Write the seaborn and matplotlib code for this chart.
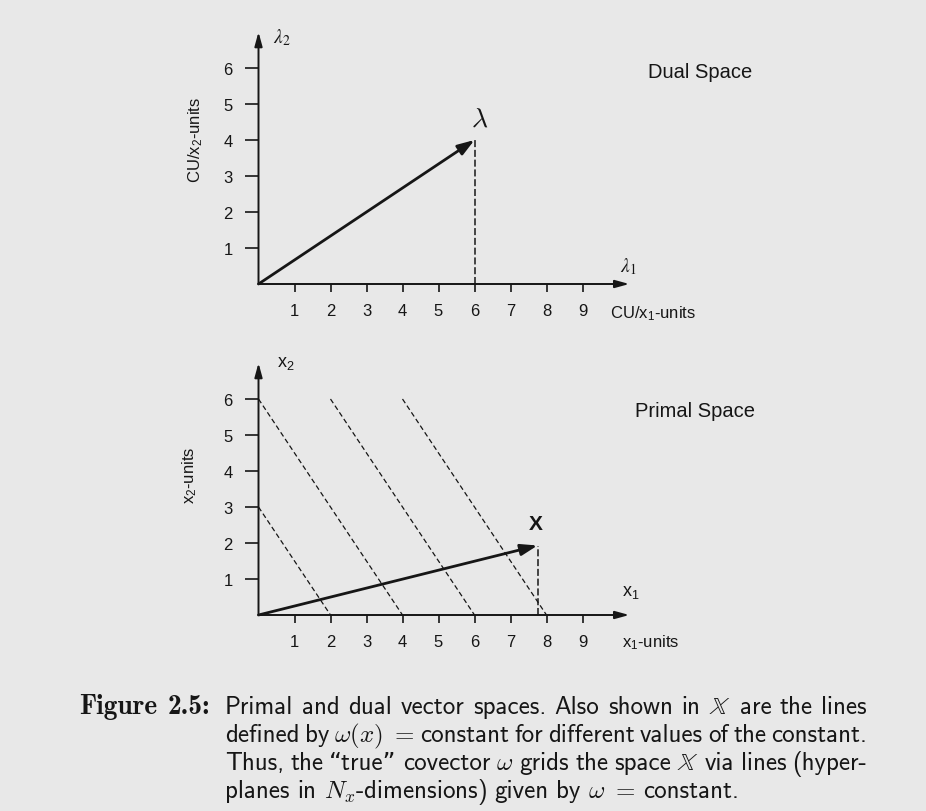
import numpy as np
import pandas as pd
import matplotlib
matplotlib.use("Agg")
import matplotlib.pyplot as plt
import seaborn as sns

# ---------------- data ----------------
x_ticks = [1, 2, 3, 4, 5, 6, 7, 8, 9]
y_ticks = [1, 2, 3, 4, 5, 6]
x_axis_max = 10.3
y_axis_max = 7.0

dual_vector = [6.0, 4.0]          # lambda
dual_drop_top = 4.05
primal_vector = [7.75, 1.93]      # x
primal_drop_top = 1.93

# lines omega(x) = constant in primal space (start / end points)
level_ids = ["c1", "c2", "c3", "c4"]
level_x1_start = [0, 0, 2, 4]
level_x2_start = [3, 6, 6, 6]
level_x1_end = [2, 4, 6, 8]
level_x2_end = [0, 0, 0, 0]

caption_head = ["Figure", "2.5:"]
caption_lines = [
    ["Primal", "and", "dual", "vector", "spaces.", "Also", "shown", "in",
     r"$\mathbb{X}$", "are", "the", "lines"],
    ["defined", "by", r"$\omega(x)\,\,=$", "constant", "for", "different",
     "values", "of", "the", "constant."],
    ["Thus,", "the", "\u201ctrue\u201d", "covector", r"$\omega$", "grids", "the",
     "space", r"$\mathbb{X}$", "via", "lines", "(hyper-"],
    ["planes", "in", r"$N_x$-dimensions)", "given", "by", r"$\omega\,\,=$",
     "constant."],
]

# ---------------- style ----------------
INK = "#161616"
BG = "#e8e8e8"
W, H = 926, 812
UNIT = 36.0
OX = 258.5

sns.set_theme(style="white")
plt.rcParams["font.family"] = ["Liberation Sans", "DejaVu Sans"]
plt.rcParams["mathtext.fontset"] = "custom"
plt.rcParams["mathtext.rm"] = "Liberation Sans"
plt.rcParams["mathtext.it"] = "Liberation Sans:italic"
plt.rcParams["mathtext.bf"] = "Liberation Sans:bold"

fig = plt.figure(figsize=(W / 100, H / 100), dpi=100)
fig.patch.set_facecolor(BG)


def make_axes(oy):
    rect = [OX / W, (H - oy) / H, x_axis_max * UNIT / W, y_axis_max * UNIT / H]
    ax = fig.add_axes(rect)
    ax.set_xlim(0, x_axis_max)
    ax.set_ylim(0, y_axis_max)
    ax.patch.set_visible(False)
    for s in ax.spines.values():
        s.set_visible(False)
    ax.grid(False)
    ax.set_xticks(x_ticks)
    ax.set_yticks(y_ticks)
    ax.set_xticklabels([str(v) for v in x_ticks])
    ax.set_yticklabels([str(v) for v in y_ticks])
    ax.tick_params(axis="x", bottom=True, direction="out", length=5.5, width=1.2,
                   pad=8.5, labelsize=12, color=INK, labelcolor=INK)
    ax.tick_params(axis="y", left=True, direction="out", length=10, width=1.2,
                   pad=8.7, labelsize=12, color=INK, labelcolor=INK)
    axis_arrow = dict(arrowstyle="-|>,head_length=0.84,head_width=0.23",
                      mutation_scale=10, lw=1.4, color=INK,
                      shrinkA=0, shrinkB=0, clip_on=False)
    ax.annotate("", xy=(x_axis_max, 0), xytext=(0, 0), arrowprops=axis_arrow,
                annotation_clip=False)
    ax.annotate("", xy=(0, y_axis_max), xytext=(0, 0), arrowprops=axis_arrow,
                annotation_clip=False)
    return ax


vec_arrow = dict(arrowstyle="-|>,head_length=1.0,head_width=0.34",
                 mutation_scale=10, lw=2.0, color=INK,
                 shrinkA=0, shrinkB=0, clip_on=False)

# ---------------- dual space ----------------
ax1 = make_axes(285.0)
drop1 = pd.DataFrame({"x": [dual_vector[0], dual_vector[0]], "y": [0, dual_drop_top]})
sns.lineplot(data=drop1, x="x", y="y", estimator=None, sort=False, color=INK,
             lw=1.1, linestyle=(0, (4.6, 1.8)), ax=ax1, clip_on=False)
ax1.annotate("", xy=(dual_vector[0], dual_vector[1]), xytext=(0, 0),
             arrowprops=vec_arrow, annotation_clip=False)
ax1.set_xlabel("")
ax1.set_ylabel("")
ax1.text(6.15, 4.58, r"$\lambda$", math_fontfamily="cm", fontsize=20,
         ha="center", va="center", color=INK)
ax1.text(0.40, 6.86, r"$\lambda_2$", math_fontfamily="stix", fontsize=14,
         ha="left", va="center", color=INK)
ax1.text(10.05, 0.50, r"$\lambda_1$", math_fontfamily="stix", fontsize=14,
         ha="left", va="center", color=INK)
ax1.text(9.76, -0.80, r"CU/x$_1$-units", fontsize=12, ha="left", va="center", color=INK)
ax1.text(10.82, 5.90, "Dual Space", fontsize=14.5, ha="left", va="center", color=INK)
ax1.text(-1.74, 4.03, r"CU/x$_2$-units", rotation=90, fontsize=12,
         ha="center", va="center", color=INK)

# ---------------- primal space ----------------
ax2 = make_axes(616.0)
rows = []
for lid, xs, ys, xe, ye in zip(level_ids, level_x1_start, level_x2_start,
                               level_x1_end, level_x2_end):
    rows.append({"level": lid, "x1": xs, "x2": ys})
    rows.append({"level": lid, "x1": xe, "x2": ye})
levels = pd.DataFrame(rows)
sns.lineplot(data=levels, x="x1", y="x2", units="level", estimator=None, sort=False,
             color=INK, lw=0.9, linestyle=(0, (4.0, 2.4)), legend=False, ax=ax2,
             clip_on=False)
drop2 = pd.DataFrame({"x": [primal_vector[0], primal_vector[0]], "y": [0, primal_drop_top]})
sns.lineplot(data=drop2, x="x", y="y", estimator=None, sort=False, color=INK,
             lw=1.1, linestyle=(0, (4.6, 1.8)), ax=ax2, clip_on=False)
ax2.annotate("", xy=(primal_vector[0], primal_vector[1]), xytext=(0, 0),
             arrowprops=vec_arrow, annotation_clip=False)
ax2.set_xlabel("")
ax2.set_ylabel("")
ax2.text(7.71, 2.53, "X", fontweight="bold", fontsize=15, ha="center",
         va="center", color=INK)
ax2.text(0.52, 7.00, r"x$_2$", fontsize=13, ha="left", va="center", color=INK)
ax2.text(10.09, 0.64, r"x$_1$", fontsize=13, ha="left", va="center", color=INK)
ax2.text(10.09, -0.75, r"x$_1$-units", fontsize=12, ha="left", va="center", color=INK)
ax2.text(10.46, 5.69, "Primal Space", fontsize=14.5, ha="left", va="center", color=INK)
ax2.text(-1.90, 3.92, r"x$_2$-units", rotation=90, fontsize=12,
         ha="center", va="center", color=INK)

# ---------------- caption ----------------
renderer = fig.canvas.get_renderer()
body_kw = dict(family=["cmss10", "DejaVu Sans"], math_fontfamily="cm", color=INK)
head_kw = dict(family=["cmb10", "DejaVu Serif"], math_fontfamily="cm", color=INK)


def width_of(s, size, kw):
    t = fig.text(0, 0, s, fontsize=size, **kw)
    w = t.get_window_extent(renderer).width
    t.remove()
    return w


X0, X1 = 225.0, 867.0
BASE0, LEAD = 714.0, 28.0
HEAD_X0, HEAD_X1 = 79.0, 211.0

# font size chosen so that the first line fits with ordinary word spacing
em10 = 10 * 100 / 72
nat10 = sum(width_of(w, 10, body_kw) for w in caption_lines[0]) + 11.5 * 0.333 * em10
cap_size = 1.04 * 10 * 0.97 * (X1 - X0) / nat10
em = cap_size * 100 / 72


def place(words, y, justify, x0=X0):
    ws = [width_of(w, cap_size, body_kw) for w in words]
    if justify:
        gap = (X1 - x0 - sum(ws)) / (len(words) - 1)
    else:
        gap = 0.31 * em
    x = x0
    for w, wd in zip(words, ws):
        fig.text(x / W, 1 - y / H, w, fontsize=cap_size, ha="left", va="baseline", **body_kw)
        x += wd + gap


for i, words in enumerate(caption_lines):
    place(words, BASE0 + LEAD * i, justify=(i < 3))

# bold heading "Figure 2.5:" sized to its span in the reference
head10 = sum(width_of(w, 10, head_kw) for w in caption_head) + 0.4 * em10
head_size = 10 * (HEAD_X1 - HEAD_X0) / head10
head_em = head_size * 100 / 72
hx = HEAD_X0
for w in caption_head:
    fig.text(hx / W, 1 - BASE0 / H, w, fontsize=head_size, ha="left", va="baseline", **head_kw)
    hx += width_of(w, head_size, head_kw) + 0.4 * head_em

fig.savefig("out.png", dpi=100, facecolor=BG)
